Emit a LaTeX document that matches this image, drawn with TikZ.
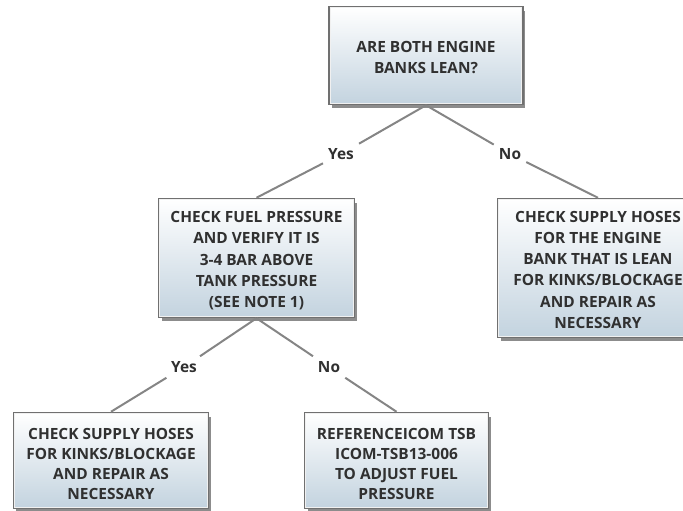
\documentclass[tikz,border=0pt]{standalone}
\usepackage{fontspec}
\setmainfont{Open Sans}
\usetikzlibrary{shadows}
\definecolor{boxgray}{HTML}{707070}
\definecolor{boxblue}{HTML}{C3D3DF}
\definecolor{linegray}{HTML}{858585}
\definecolor{txt}{HTML}{303030}
\newcommand\toppad[1]{\rule{0pt}{#1}}
\tikzset{
  qbox/.style={draw=boxgray, line width=2.5bp, top color=white, bottom color=boxblue,
    align=center, inner sep=0pt, text=txt,
    font=\fontsize{15.5}{21.2}\selectfont\bfseries,
    drop shadow={shadow xshift=2.5bp, shadow yshift=-4bp, fill=black, opacity=0.45}},
  lbl/.style={text=txt, font=\fontsize{15.5}{17}\selectfont\bfseries, inner sep=5bp},
  conn/.style={draw=linegray, line width=2bp},
  inner/.style={draw=white, line width=1bp, opacity=0.9}
}
\begin{document}
\begin{tikzpicture}[x=1bp, y=-1bp]
\useasboundingbox (0,0) rectangle (683,511);
\node[qbox, minimum width=193bp, minimum height=97bp] (q1) at (426,55.5)
  {\toppad{15.5bp}ARE BOTH ENGINE\\BANKS LEAN?};
\node[qbox, minimum width=195bp, minimum height=118bp] (c1) at (256.5,258)
  {\toppad{16.5bp}CHECK FUEL PRESSURE\\AND VERIFY IT IS\\3-4 BAR ABOVE\\TANK PRESSURE\\(SEE NOTE 1)};
\node[qbox, minimum width=200bp, minimum height=138bp] (r1) at (598,268)
  {\toppad{15bp}CHECK SUPPLY HOSES\\FOR THE ENGINE\\BANK THAT IS LEAN\\FOR KINKS/BLOCKAGE\\AND REPAIR AS\\NECESSARY};
\node[qbox, minimum width=194bp, minimum height=95bp, font=\fontsize{15.5}{20}\selectfont\bfseries] (b1) at (111,460.5)
  {\toppad{18bp}CHECK SUPPLY HOSES\\FOR KINKS/BLOCKAGE\\AND REPAIR AS\\NECESSARY};
\node[qbox, minimum width=183bp, minimum height=95bp, font=\fontsize{15.5}{20}\selectfont\bfseries] (b2) at (396.5,460.5)
  {\toppad{18bp}REFERENCEICOM TSB\\ICOM-TSB13-006\\TO ADJUST FUEL\\PRESSURE};
\foreach \n in {q1,c1,r1,b1,b2}{
  \draw[inner] ([shift={(1.8bp,-1.8bp)}]\n.north west) rectangle ([shift={(-1.8bp,1.8bp)}]\n.south east);
}
\node[lbl] (y1) at (341,154) {Yes};
\node[lbl] (n1) at (510,154) {No};
\node[lbl] (y2) at (184,367) {Yes};
\node[lbl] (n2) at (329,367) {No};
\draw[conn] (q1.south) -- (y1);
\draw[conn] (y1) -- (c1.north);
\draw[conn] (q1.south) -- (n1);
\draw[conn] (n1) -- (r1.north);
\draw[conn] (c1.south) -- (y2);
\draw[conn] (y2) -- (b1.north);
\draw[conn] (c1.south) -- (n2);
\draw[conn] (n2) -- (b2.north);
\end{tikzpicture}
\end{document}
